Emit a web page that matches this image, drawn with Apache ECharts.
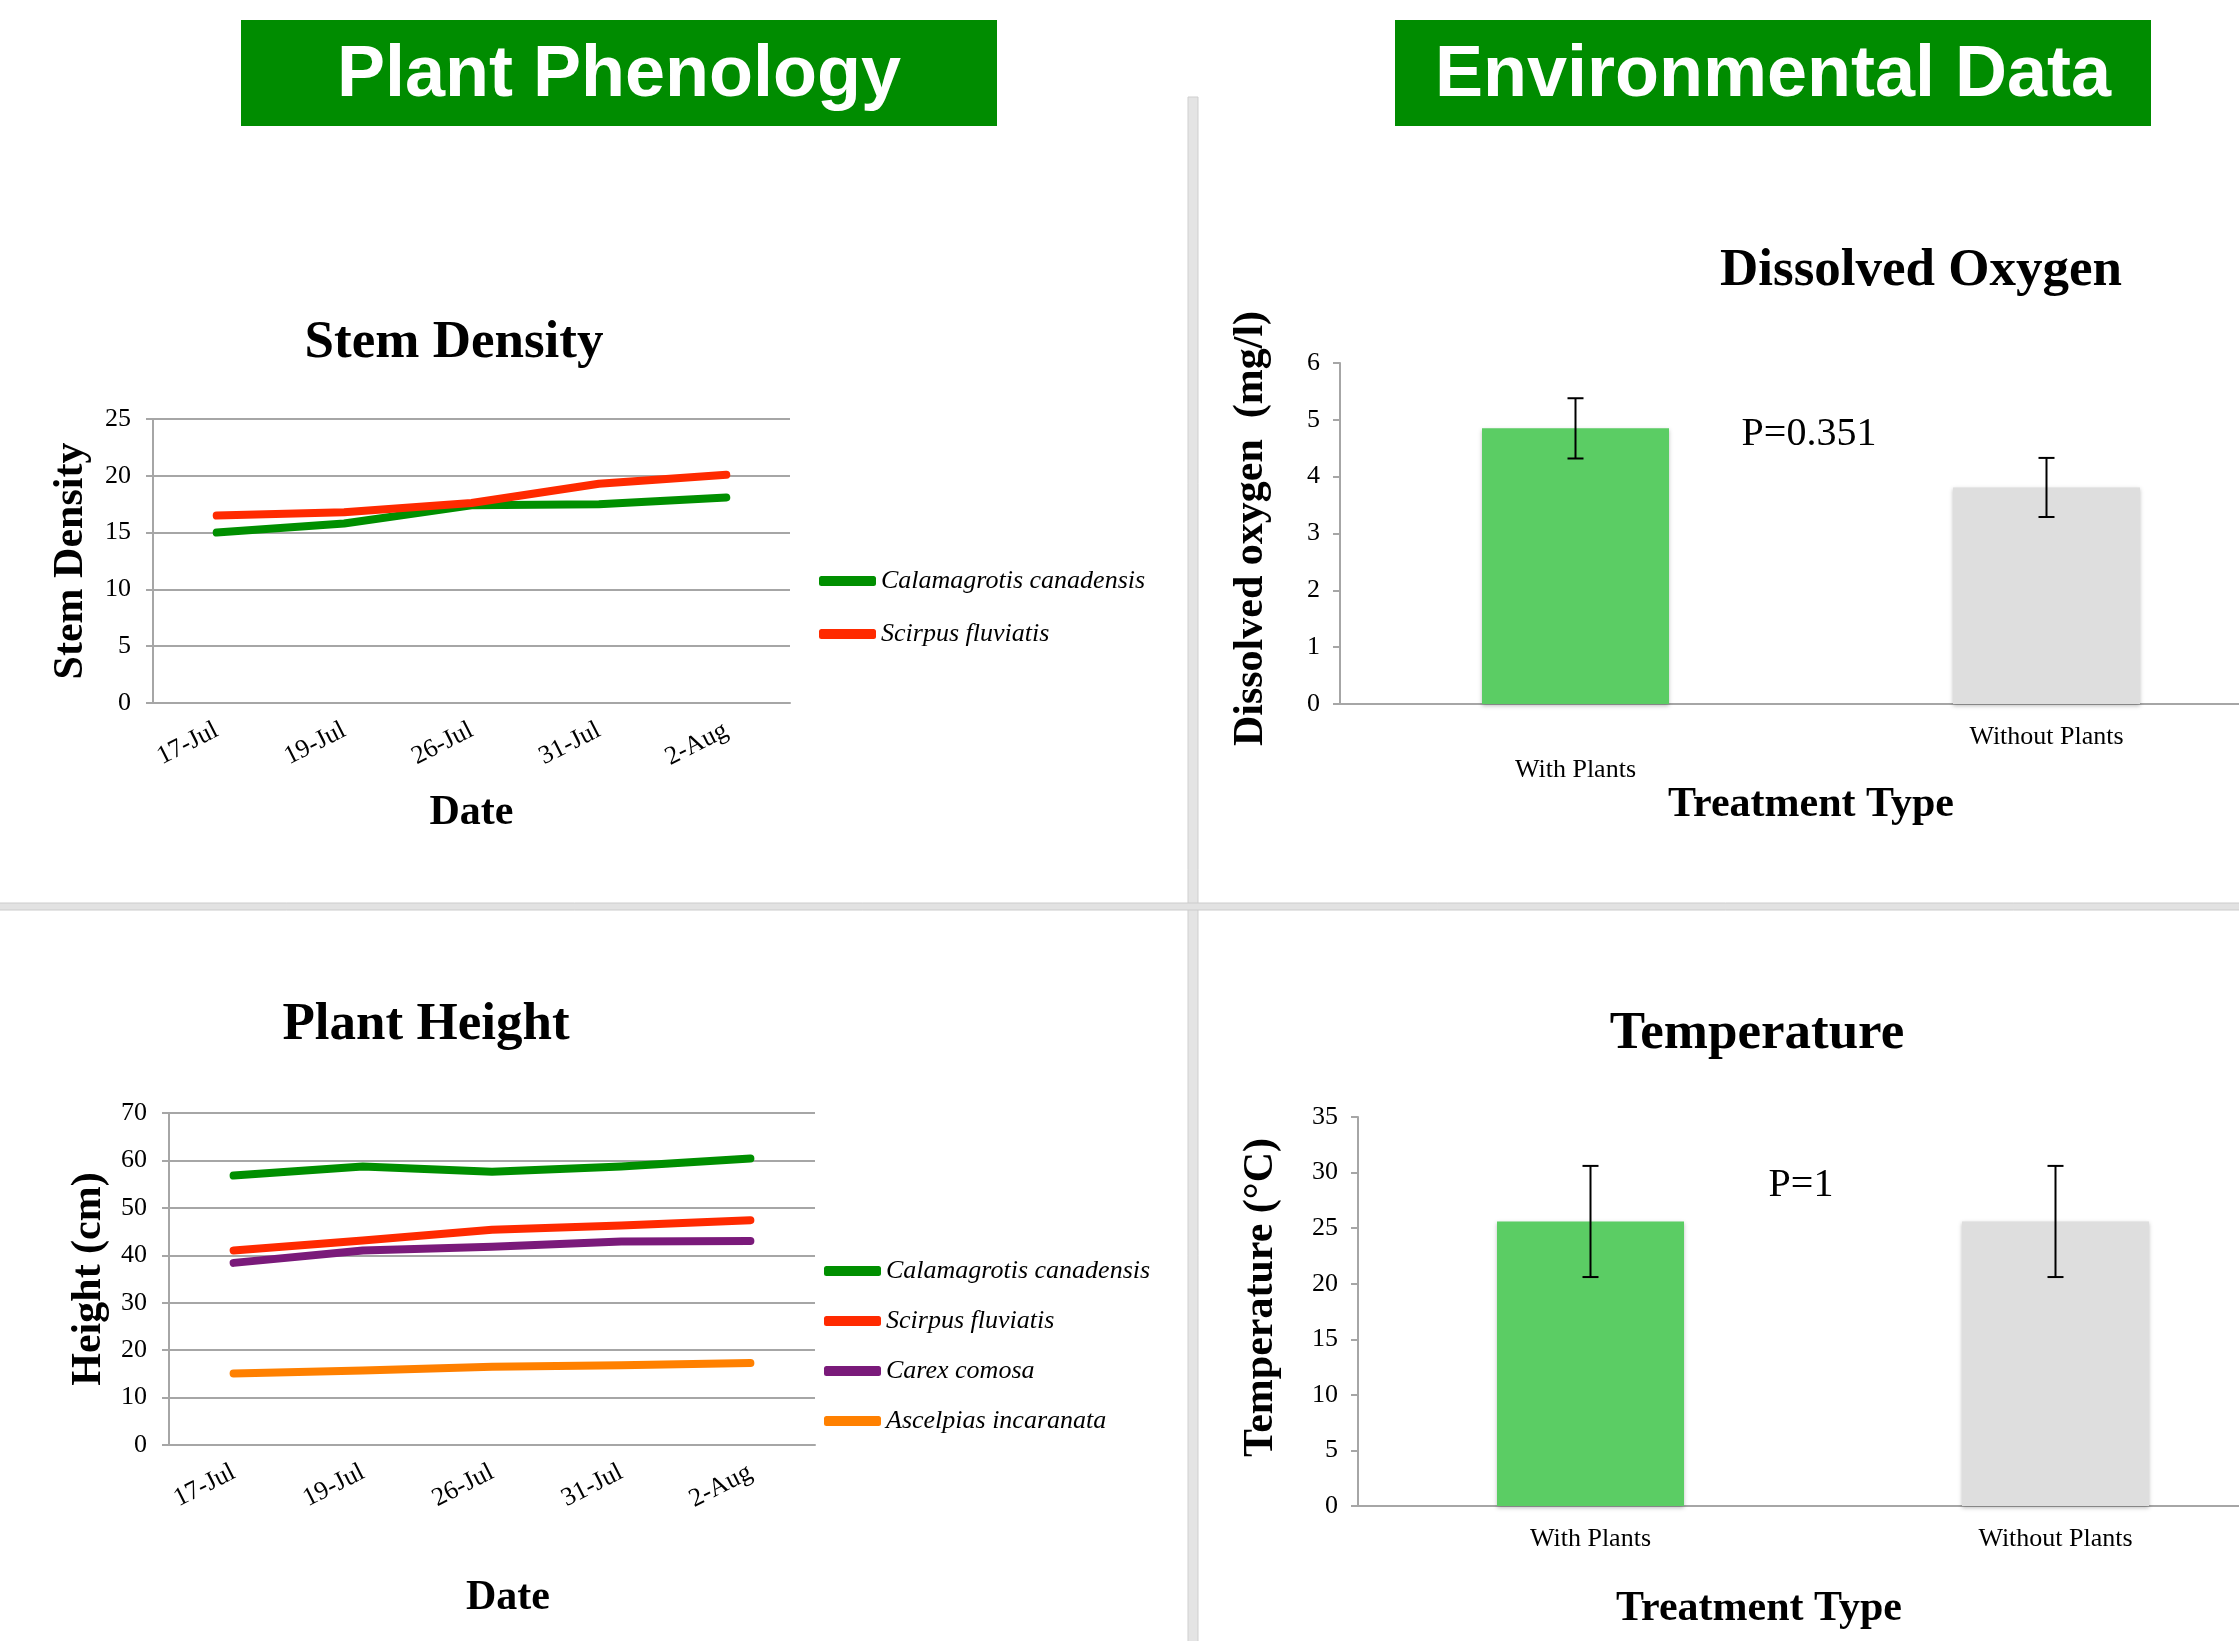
<!DOCTYPE html>
<html>
<head>
<meta charset="utf-8">
<script src="https://cdn.jsdelivr.net/npm/echarts@6/dist/echarts.min.js"></script>
<style>
html,body{margin:0;padding:0;background:#fff;overflow:hidden;width:2239px;height:1641px;}
#main{width:2300px;height:1641px;}
</style>
</head>
<body>
<div id="main"></div>
<script>
// ---- data ----
const dates = ['17-Jul', '19-Jul', '26-Jul', '31-Jul', '2-Aug'];
const stemCalamagrotis = [15.0, 15.8, 17.4, 17.5, 18.1];
const stemScirpus = [16.5, 16.8, 17.6, 19.3, 20.1];
const heightCalamagrotis = [56.8, 58.7, 57.6, 58.7, 60.4];
const heightScirpus = [41.0, 43.1, 45.4, 46.3, 47.4];
const heightCarex = [38.4, 41.0, 41.8, 42.9, 43.0];
const heightAscelpias = [15.1, 15.7, 16.5, 16.8, 17.3];
const speciesNames = ['Calamagrotis canadensis', 'Scirpus fluviatis', 'Carex comosa', 'Ascelpias incaranata'];
const treatments = ['With Plants', 'Without Plants'];
const doMeans = [4.85, 3.81];
const doErrors = [0.53, 0.52];
const tempMeans = [25.6, 25.6];
const tempErrors = [5.0, 5.0];

// ---- styles ----
const SERIF = '"Liberation Serif", "Times New Roman", serif';
const SANS = '"Liberation Sans", Arial, sans-serif';
const GRAY = '#a6a6a6';
const C_GREEN = '#008f00', C_RED = '#ff2a00', C_PURPLE = '#7a1a7a', C_ORANGE = '#ff8000';
const BAR_GREEN = '#5bcd64', BAR_GRAY = '#dedede';

const chart = echarts.init(document.getElementById('main'), null, {renderer: 'canvas'});

function lineX(gridIndex, nameGap, padding) {
  return {
    type: 'category', gridIndex: gridIndex, data: dates, boundaryGap: true,
    axisLine: {lineStyle: {color: GRAY, width: 2}},
    axisTick: {alignWithLabel: true, length: 10, lineStyle: {color: GRAY, width: 2}},
    axisLabel: {rotate: 27, margin: 26, color: '#000', fontFamily: SERIF, fontSize: 26},
    name: 'Date', nameLocation: 'middle', nameGap: nameGap,
    nameTextStyle: {fontFamily: SERIF, fontWeight: 'bold', fontSize: 42, color: '#000', padding: padding || 0}
  };
}
function lineY(gridIndex, max, interval, name, nameGap) {
  return {
    type: 'value', gridIndex: gridIndex, min: 0, max: max, interval: interval,
    axisLine: {show: true, lineStyle: {color: GRAY, width: 2}},
    axisTick: {show: true, length: 7, lineStyle: {color: GRAY, width: 2}},
    splitLine: {show: true, lineStyle: {color: GRAY, width: 2}},
    axisLabel: {margin: 22, color: '#000', fontFamily: SERIF, fontSize: 26},
    name: name, nameLocation: 'middle', nameGap: nameGap,
    nameTextStyle: {fontFamily: SERIF, fontWeight: 'bold', fontSize: 42, color: '#000'}
  };
}
function barX(gridIndex, nameGap, labelPads, padding) {
  return {
    type: 'category', gridIndex: gridIndex,
    data: treatments.map((t, i) => ({value: t, textStyle: {padding: labelPads[i]}})),
    axisLine: {lineStyle: {color: GRAY, width: 2}},
    axisTick: {length: 8, lineStyle: {color: GRAY, width: 2}},
    axisLabel: {margin: 20, color: '#000', fontFamily: SERIF, fontSize: 26},
    name: 'Treatment Type', nameLocation: 'middle', nameGap: nameGap,
    nameTextStyle: {fontFamily: SERIF, fontWeight: 'bold', fontSize: 42, color: '#000', padding: padding || 0}
  };
}
function barY(gridIndex, max, interval, name, nameGap, padding) {
  return {
    type: 'value', gridIndex: gridIndex, min: 0, max: max, interval: interval,
    axisLine: {show: true, lineStyle: {color: GRAY, width: 2}},
    axisTick: {show: true, length: 7, lineStyle: {color: GRAY, width: 2}},
    splitLine: {show: false},
    axisLabel: {margin: 20, color: '#000', fontFamily: SERIF, fontSize: 26},
    name: name, nameLocation: 'middle', nameGap: nameGap,
    nameTextStyle: {fontFamily: SERIF, fontWeight: 'bold', fontSize: 42, color: '#000', padding: padding || 0}
  };
}
function lineSeries(name, data, color, xi, yi) {
  return {
    type: 'line', name: name, data: data, xAxisIndex: xi, yAxisIndex: yi,
    symbol: 'none', smooth: false, color: color,
    lineStyle: {color: color, width: 8, cap: 'round', join: 'round'},
    z: 3
  };
}
function errorSeries(means, errs, xi, yi) {
  return {
    type: 'custom', xAxisIndex: xi, yAxisIndex: yi, z: 5,
    data: means.map((m, i) => [i, m - errs[i], m + errs[i]]),
    renderItem: function (params, api) {
      const lo = api.coord([api.value(0), api.value(1)]);
      const hi = api.coord([api.value(0), api.value(2)]);
      const w = 8;
      const st = {stroke: '#000', lineWidth: 2};
      return {type: 'group', children: [
        {type: 'line', shape: {x1: lo[0], y1: lo[1], x2: hi[0], y2: hi[1]}, style: st},
        {type: 'line', shape: {x1: hi[0] - w, y1: hi[1], x2: hi[0] + w, y2: hi[1]}, style: st},
        {type: 'line', shape: {x1: lo[0] - w, y1: lo[1], x2: lo[0] + w, y2: lo[1]}, style: st}
      ]};
    }
  };
}
function barSeries(means, xi, yi) {
  return {
    type: 'bar', xAxisIndex: xi, yAxisIndex: yi, barWidth: 187,
    data: means.map((m, i) => ({value: m, itemStyle: {color: i === 0 ? BAR_GREEN : BAR_GRAY,
      shadowBlur: 4, shadowColor: 'rgba(0,0,0,0.25)', shadowOffsetY: 2}})),
    z: 2
  };
}
function txt(text, x, y, font, fill) {
  return {type: 'text', x: x, y: y, z: 100,
    style: {text: text, font: font, fill: fill || '#000', align: 'center', verticalAlign: 'middle',
      textAlign: 'center', textVerticalAlign: 'middle'}};
}

const legendText = {fontFamily: SERIF, fontStyle: 'italic', fontSize: 26, color: '#000', lineHeight: 28};

const option = {
  backgroundColor: '#ffffff',
  animation: false,
  grid: [
    {left: 153, top: 419, width: 637, height: 284},
    {left: 169, top: 1113, width: 646, height: 332},
    {left: 1340, top: 363, width: 942, height: 341},
    {left: 1358, top: 1117, width: 930, height: 389}
  ],
  xAxis: [
    lineX(0, 89),
    lineX(1, 132, [0, 0, 0, 32]),
    barX(2, 80, [[33, 0, 0, 0], 0]),
    barX(3, 82, [0, 0], [0, 128, 0, 0])
  ],
  yAxis: [
    lineY(0, 25, 5, 'Stem Density', 61),
    lineY(1, 70, 10, 'Height (cm)', 59),
    barY(2, 6, 1, 'Dissolved oxygen  (mg/l)', 68, [0, 0, 0, 10]),
    barY(3, 35, 5, 'Temperature (\u00B0C)', 76, [0, 0, 0, 28])
  ],
  legend: [
    {data: speciesNames.slice(0, 2), orient: 'vertical', left: 814, top: 562,
      icon: 'roundRect', itemWidth: 57, itemHeight: 10, itemGap: 25, textStyle: legendText},
    {data: speciesNames.slice(0, 4), orient: 'vertical', left: 819, top: 1252,
      icon: 'roundRect', itemWidth: 57, itemHeight: 10, itemGap: 22, textStyle: legendText}
  ],
  series: [
    lineSeries(speciesNames[0], stemCalamagrotis, C_GREEN, 0, 0),
    lineSeries(speciesNames[1], stemScirpus, C_RED, 0, 0),
    lineSeries(speciesNames[0], heightCalamagrotis, C_GREEN, 1, 1),
    lineSeries(speciesNames[1], heightScirpus, C_RED, 1, 1),
    lineSeries(speciesNames[2], heightCarex, C_PURPLE, 1, 1),
    lineSeries(speciesNames[3], heightAscelpias, C_ORANGE, 1, 1),
    barSeries(doMeans, 2, 2),
    errorSeries(doMeans, doErrors, 2, 2),
    barSeries(tempMeans, 3, 3),
    errorSeries(tempMeans, tempErrors, 3, 3)
  ],
  graphic: [
    // dividers
    {type: 'rect', shape: {x: 1188, y: 97, width: 10, height: 1560}, style: {fill: '#e4e4e4', stroke: '#cfcfcf', lineWidth: 1}, z: 0},
    {type: 'rect', shape: {x: -2, y: 903, width: 2310, height: 7}, style: {fill: '#e2e2e2', stroke: '#cccccc', lineWidth: 1}, z: 0},
    // banners
    {type: 'rect', shape: {x: 241, y: 20, width: 756, height: 106}, style: {fill: '#008c00'}, z: 50},
    {type: 'rect', shape: {x: 1395, y: 20, width: 756, height: 106}, style: {fill: '#008c00'}, z: 50},
    txt('Plant Phenology', 619, 76, 'bold 72px ' + SANS, '#ffffff'),
    txt('Environmental Data', 1773, 76, 'bold 72px ' + SANS, '#ffffff'),
    // chart titles
    txt('Stem Density', 454, 343, 'bold 53px ' + SERIF),
    txt('Plant Height', 426, 1025, 'bold 53px ' + SERIF),
    txt('Dissolved Oxygen', 1921, 271, 'bold 53px ' + SERIF),
    txt('Temperature', 1757, 1034, 'bold 53px ' + SERIF),
    // p-values
    txt('P=0.351', 1809, 434, '40px ' + SERIF),
    txt('P=1', 1801, 1185, '40px ' + SERIF)
  ]
};
chart.setOption(option);
</script>
</body>
</html>
